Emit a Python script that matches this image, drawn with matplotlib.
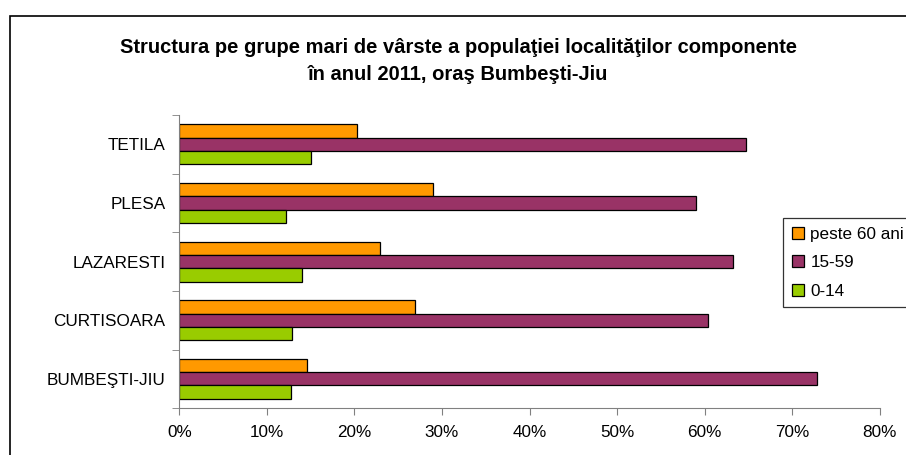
import matplotlib.pyplot as plt
import numpy as np
from matplotlib.patches import Rectangle
import matplotlib.ticker as mtick

plt.rcParams['font.family'] = ['Liberation Sans', 'DejaVu Sans']

# date (procente)
localitati = ['BUMBEŞTI-JIU', 'CURTISOARA', 'LAZARESTI', 'PLESA', 'TETILA']
peste60 = [14.6, 26.9, 22.9, 29.0, 20.3]
v15_59 = [72.8, 60.4, 63.2, 59.0, 64.7]
v0_14 = [12.7, 12.9, 14.0, 12.2, 15.0]

serii = ['peste 60 ani', '15-59', '0-14']
culori = ['#FF9900', '#993366', '#99CC00']

fig = plt.figure(figsize=(9.06, 4.55), dpi=100)
ax = fig.add_axes([0.198, 0.103, 0.773, 0.644])

y = np.arange(len(localitati))
h = 0.227
for vals, off, c, lab in zip([peste60, v15_59, v0_14], [h, 0, -h], culori, serii):
    ax.barh(y + off, vals, height=h, color=c, edgecolor='black', linewidth=0.9, label=lab)

ax.set_xlim(0, 80)
ax.set_ylim(-0.5, 4.5)
ax.xaxis.set_major_locator(mtick.MultipleLocator(10))
ax.xaxis.set_major_formatter(mtick.FuncFormatter(lambda v, p: '%d%%' % v))
ax.set_yticks(y)
ax.set_yticklabels(localitati)
ax.set_yticks(np.arange(-0.5, 5, 1), minor=True)
ax.tick_params(axis='y', which='major', length=0, pad=10, labelsize=12.3)
ax.tick_params(axis='y', which='minor', length=5, color='#808080')
ax.tick_params(axis='x', length=5, color='#808080', pad=7, labelsize=12.3)
for s in ['top', 'right']:
    ax.spines[s].set_visible(False)
for s in ['left', 'bottom']:
    ax.spines[s].set_color('#808080')

fig.text(0.506, 0.866, 'Structura pe grupe mari de vârste a populaţiei localităţilor componente\nîn anul 2011, oraş Bumbeşti-Jiu',
         ha='center', va='center', fontsize=14.5, fontweight='bold', linespacing=1.5)

leg = ax.legend(loc='upper left', fontsize=12.3, frameon=True,
                fancybox=False, edgecolor='black', handlelength=0.7, handleheight=0.7,
                handletextpad=0.4, labelspacing=0.8, borderpad=0.5, borderaxespad=0)
leg.get_frame().set_linewidth(0.9)
leg.set_bbox_to_anchor((783 / 906, 1 - 218 / 455), transform=fig.transFigure)

fig.patches.append(Rectangle((10 / 906, -0.1), 1.2, 1 - 16 / 455 + 0.1, transform=fig.transFigure,
                             fill=False, edgecolor='black', linewidth=1.2))

plt.savefig('out.png', dpi=100)
